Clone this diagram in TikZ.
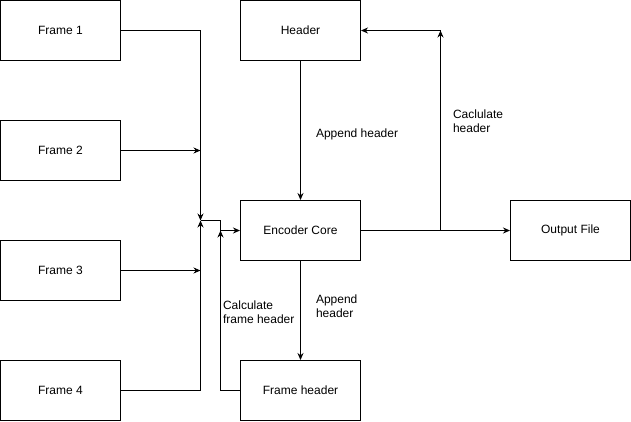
\documentclass[tikz,border=0pt]{standalone}
\usepackage{fontspec}
\setmainfont{Liberation Sans}
\usetikzlibrary{arrows.meta}
\tikzset{
  blk/.style={draw, line width=1pt, minimum width=120pt, minimum height=60pt, inner sep=0pt,
    font=\fontsize{12}{14}\selectfont},
  lbl/.style={font=\fontsize{12}{14}\selectfont, align=left, inner sep=0pt, anchor=west},
  >={Stealth[length=7pt,width=6pt]},
}
\begin{document}
\begin{tikzpicture}[x=1pt,y=-1pt,line width=1pt]
  \useasboundingbox (-0.5,-0.5) rectangle (630.5,420.5);
  % input frames
  \node[blk] (f1) at (60,30) {Frame 1};
  \node[blk] (f2) at (60,150) {Frame 2};
  \node[blk] (f3) at (60,270) {Frame 3};
  \node[blk] (f4) at (60,390) {Frame 4};
  % encoder side
  \node[blk] (hdr) at (300,30) {Header};
  \node[blk] (core) at (300,230) {Encoder Core};
  \node[blk] (fh) at (300,390) {Frame header};
  \node[blk] (out) at (570,230) {Output File};
  \coordinate (jn) at (200,220);
  \coordinate (jm) at (220,230);
  \coordinate (br) at (440,230);
  \coordinate (tp) at (440,30);
  % connectors
  \draw[->] (f1.east) -| (jn);
  \draw[->] (f2.east) -- (f2.east -| jn);
  \draw[->] (f3.east) -- (f3.east -| jn);
  \draw[->] (f4.east) -| (jn);
  \draw[->] (jn) -- ++(20,0) |- (core.west);
  \draw[->] (fh.west) -| (jm);
  \draw[->] (hdr.south) -- (core.north);
  \draw[->] (core.south) -- (fh.north);
  \draw[->] (core.east) -- (out.west);
  \draw[->] (br) -- (tp);
  \draw[->] (tp) -- (hdr.east);
  % labels
  \node[lbl] (l1) at (315,134) {Append header};
  \node[lbl] (l2) at (452,121) {Caclulate\\header};
  \node[lbl] (l3) at (315,306) {Append\\header};
  \node[lbl] (l4) at (222,312) {Calculate\\frame header};
\end{tikzpicture}
\end{document}
